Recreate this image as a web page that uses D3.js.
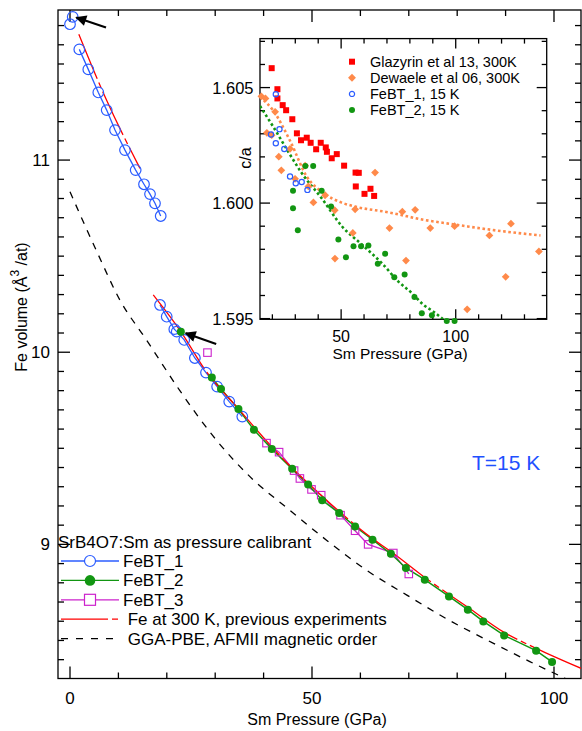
<!DOCTYPE html>
<html>
<head>
<meta charset="utf-8">
<script src="https://cdn.jsdelivr.net/npm/d3@7"></script>
<style>
  body { margin: 0; background: #fff; }
  svg { display: block; font-family: "Liberation Sans", Arial, sans-serif; }
</style>
</head>
<body>
<svg id="chart" width="582" height="731"></svg>
<script>
// ---- main panel: Fe volume vs Sm pressure ----
const febt1Zero = [[0, 11.707], [0.56, 11.745]];
const febt1RunA = [[1.92, 11.576], [3.78, 11.472], [5.85, 11.352], [7.58, 11.26], [9.3, 11.156],
  [11.36, 11.052], [13.57, 10.948], [15.29, 10.874], [16.53, 10.823], [17.56, 10.775], [18.74, 10.709]];
const febt1RunB = [[18.6, 10.246], [19.98, 10.185], [21.55, 10.12], [22.05, 10.107], [23.6, 10.064],
  [25.8, 9.97], [28.1, 9.894], [30.4, 9.821], [32.9, 9.743], [35.6, 9.665]];
const febt2First = [[22.9, 10.107]];
const febt2Run = [[29.3, 9.868], [31.2, 9.809], [34.8, 9.704], [38.0, 9.596], [41.7, 9.496], [45.9, 9.393],
  [49.2, 9.312], [52.1, 9.23], [55.6, 9.163], [58.9, 9.093], [62.5, 9.024], [66.3, 8.951], [69.4, 8.877],
  [73.3, 8.816], [78.3, 8.729], [82.2, 8.66], [85.4, 8.599], [89.7, 8.526], [96.3, 8.447], [99.6, 8.388]];
const febt3Lone = [[28.4, 9.998]];
const febt3Run = [[40.6, 9.527], [43.2, 9.48], [46.3, 9.384], [47.5, 9.343], [49.9, 9.286], [51.9, 9.256],
  [55.9, 9.152], [58.9, 9.071], [61.6, 9.0], [66.8, 8.955], [70.0, 8.846]];
const fe300Low = [[1.82, 11.655], [7.4, 11.32], [14.46, 10.957]];
const fe300High = [[17.2, 10.298], [22.9, 10.107], [28, 9.905], [35, 9.70], [40, 9.555], [45, 9.42],
  [50, 9.30], [55, 9.185], [62.5, 9.03], [66.3, 8.963], [73.3, 8.828], [82.2, 8.673], [89.7, 8.542],
  [96.3, 8.459], [105.6, 8.355]];
const ggaPbe = [[0, 10.835], [5.7, 10.515], [10.3, 10.272], [15.8, 10.064], [22.7, 9.80], [30, 9.55],
  [37.9, 9.335], [44.8, 9.19], [53, 9.022], [61, 8.87], [69.6, 8.736], [78, 8.61], [87.5, 8.485],
  [95, 8.39], [102.3, 8.303]];
const arrows = [[[7.44, 11.69], [1.3, 11.742]], [[30.2, 10.043], [23.9, 10.099]]];

const mainXLabels = [0, 50, 100];
const mainYLabels = [9, 10, 11];
const mainLegend = ["FeBT_1", "FeBT_2", "FeBT_3", " Fe at 300 K, previous experiments", " GGA-PBE, AFMII magnetic order"];

// ---- inset: c/a vs Sm pressure ----
const glazyrin = [[19.7, 1.60584], [22.2, 1.60493], [22.2, 1.60453], [24.5, 1.60424], [26.0, 1.60402],
  [28.7, 1.60363], [30.7, 1.60302], [32.5, 1.60272], [35.0, 1.60283], [36.7, 1.60261], [39.1, 1.60233],
  [41.1, 1.60261], [43.3, 1.60241], [43.8, 1.60222], [45.9, 1.60194], [48.1, 1.60212], [51.3, 1.60162],
  [56.3, 1.60132], [57.7, 1.60131], [56.4, 1.60072], [60.2, 1.6004], [62.8, 1.60062], [64.4, 1.60031]];
const dewaele = [[15.2, 1.60462], [17.0, 1.60453], [21.2, 1.60395], [17.6, 1.60304], [19.7, 1.60294],
  [22.8, 1.60201], [23.9, 1.60142], [27.7, 1.60235], [29.9, 1.60105], [34.3, 1.60162], [35.7, 1.60072],
  [37.9, 1.60003], [43.0, 1.60034], [47.2, 1.59969], [56.1, 1.59973], [55.1, 1.59871], [47.3, 1.5976],
  [71.1, 1.59892], [64.8, 1.60132], [76.7, 1.59963], [78.3, 1.59751], [82.3, 1.59971], [88.9, 1.59892],
  [99.5, 1.599], [114.7, 1.5986], [124.1, 1.59911], [121.8, 1.59681], [105.0, 1.5954], [136.3, 1.59791]];
const febt1Ca = [[21.5, 1.60471], [23.1, 1.6032], [19.4, 1.60297], [21.5, 1.60259], [25.2, 1.60234],
  [27.7, 1.60115], [30.2, 1.60086], [32.8, 1.60091], [35.3, 1.60057]];
const febt2Ca = [[29.0, 1.60053], [29.0, 1.59978], [31.1, 1.59882], [34.4, 1.60161], [37.8, 1.60161],
  [41.5, 1.60053], [45.6, 1.59985], [48.8, 1.59842], [52.1, 1.59766], [55.4, 1.59813], [58.7, 1.59813],
  [61.9, 1.59816], [66.0, 1.59737], [69.2, 1.59781], [73.2, 1.59679], [77.7, 1.59691], [82.0, 1.59593],
  [85.2, 1.59523], [89.6, 1.59514], [96.1, 1.5949], [99.5, 1.5949]];
const dewaeleFit = [[14.6, 1.6046], [20.4, 1.6040], [27.7, 1.6027], [35, 1.60115], [42.3, 1.60043],
  [50, 1.60003], [56, 1.59985], [70.7, 1.5996], [85.9, 1.59928], [100.5, 1.59906], [115, 1.59885], [137, 1.5986]];
const febt2Fit = [[14.6, 1.6042], [20.4, 1.6033], [27.7, 1.6021], [32.8, 1.6013], [41.6, 1.6002],
  [50.3, 1.5990], [59.1, 1.5982], [67.8, 1.5974], [75, 1.5966], [80.9, 1.5961], [85.9, 1.5956],
  [90.3, 1.5953], [95.4, 1.5949]];

const insetXLabels = [50, 100];
const insetYLabels = [1.595, 1.600, 1.605];
const insetLegend = ["Glazyrin et al 13, 300K", "Dewaele et al 06, 300K", "FeBT_1, 15 K", "FeBT_2, 15 K"];

const BLUE = "#2b5cff", GREEN = "#129612", MAGENTA = "#cc22cc", RED = "#ff0000", ORANGE = "#ff8a4a";

const svg = d3.select("#chart");

const x = d3.scaleLinear().domain([-2.48, 105.58]).range([58, 581]);
const y = d3.scaleLinear().domain([8.302, 11.781]).range([678.5, 10]);
const ix = d3.scaleLinear().domain([14.6, 139.7]).range([260, 546.7]);
const iy = d3.scaleLinear().domain([1.59497, 1.60712]).range([319.3, 38.6]);

svg.append("defs").call((defs) => {
  defs.append("clipPath").attr("id", "clip-main")
    .append("rect").attr("x", 58).attr("y", 10).attr("width", 523).attr("height", 668.5);
  defs.append("clipPath").attr("id", "clip-inset")
    .append("rect").attr("x", 260).attr("y", 38.6).attr("width", 286.7).attr("height", 280.7);
  defs.append("marker").attr("id", "head")
    .attr("viewBox", "0 0 10 10").attr("refX", 9).attr("refY", 5)
    .attr("markerUnits", "userSpaceOnUse").attr("markerWidth", 13).attr("markerHeight", 11)
    .attr("orient", "auto")
    .append("path").attr("d", "M0,0 L10,5 L0,10 z").attr("fill", "#000");
});

// box with inward ticks on all four sides
function frame(g, sx, sy, xt, xMajor, yt, yMajor, big, small) {
  const [x0, x1] = sx.range();
  const [y0, y1] = sy.range();
  g.append("rect").attr("x", x0).attr("y", y1).attr("width", x1 - x0).attr("height", y0 - y1)
    .attr("fill", "none").attr("stroke", "#000").attr("stroke-width", 1.3);
  const len = (d, f) => (f(d) ? big : small);
  g.selectAll(".tb").data(xt).join("line").attr("class", "tb")
    .attr("x1", (d) => sx(d)).attr("x2", (d) => sx(d))
    .attr("y1", y0).attr("y2", (d) => y0 - len(d, xMajor));
  g.selectAll(".tt").data(xt).join("line").attr("class", "tt")
    .attr("x1", (d) => sx(d)).attr("x2", (d) => sx(d))
    .attr("y1", y1).attr("y2", (d) => y1 + len(d, xMajor));
  g.selectAll(".tl").data(yt).join("line").attr("class", "tl")
    .attr("y1", (d) => sy(d)).attr("y2", (d) => sy(d))
    .attr("x1", x0).attr("x2", (d) => x0 + len(d, yMajor));
  g.selectAll(".tr").data(yt).join("line").attr("class", "tr")
    .attr("y1", (d) => sy(d)).attr("y2", (d) => sy(d))
    .attr("x1", x1).attr("x2", (d) => x1 - len(d, yMajor));
  g.selectAll("line").attr("stroke", "#000").attr("stroke-width", 1.3);
}

function path(g, data, sx, sy, color, opts = {}) {
  const line = d3.line().x((d) => sx(d[0])).y((d) => sy(d[1]));
  if (opts.curve) line.curve(opts.curve);
  return g.append("path").attr("d", line(data)).attr("fill", "none")
    .attr("stroke", color).attr("stroke-width", opts.width || 1.3)
    .attr("stroke-dasharray", opts.dash || null);
}

function circles(g, data, sx, sy, r, color, open) {
  g.append("g").selectAll("circle").data(data).join("circle")
    .attr("cx", (d) => sx(d[0])).attr("cy", (d) => sy(d[1])).attr("r", r)
    .attr("fill", open ? "none" : color).attr("stroke", color).attr("stroke-width", open ? 1.2 : 0);
}

function squares(g, data, sx, sy, s, color, open, rot) {
  g.append("g").selectAll("rect").data(data).join("rect")
    .attr("x", -s / 2).attr("y", -s / 2).attr("width", s).attr("height", s)
    .attr("transform", (d) => `translate(${sx(d[0])},${sy(d[1])}) rotate(${rot || 0})`)
    .attr("fill", open ? "none" : color).attr("stroke", open ? color : "none").attr("stroke-width", 1.1);
}

// ===== main panel =====
const main = svg.append("g");
frame(main, x, y, d3.range(0, 101, 10), (d) => d % 50 === 0,
  d3.range(84, 118).map((v) => v / 10), (d) => Math.abs(d - Math.round(d)) < 1e-6, 12, 6);

main.selectAll(".xl").data(mainXLabels).join("text").attr("class", "xl")
  .attr("x", (d) => x(d)).attr("y", 704).attr("text-anchor", "middle")
  .attr("font-size", 17).text((d) => d);
main.selectAll(".yl").data(mainYLabels).join("text").attr("class", "yl")
  .attr("x", 50).attr("y", (d) => y(d) + 6).attr("text-anchor", "end")
  .attr("font-size", 17).text((d) => d);

main.append("text").attr("x", 317).attr("y", 725).attr("text-anchor", "middle")
  .attr("font-size", 16).text("Sm Pressure (GPa)");
main.append("text").attr("transform", "translate(27,307) rotate(-90)").attr("text-anchor", "middle")
  .attr("font-size", 16)
  .call((t) => {
    t.append("tspan").text("Fe volume (Å");
    t.append("tspan").attr("dy", -8).attr("font-size", 12).text("3");
    t.append("tspan").attr("dy", 8).text(" /at)");
  });

const plot = main.append("g").attr("clip-path", "url(#clip-main)");
path(plot, ggaPbe, x, y, "#000", { dash: "7,7", curve: d3.curveMonotoneX, width: 1.3 });
path(plot, febt1RunA, x, y, BLUE);
path(plot, febt1RunB, x, y, BLUE);
path(plot, febt3Run, x, y, MAGENTA);
path(plot, febt2Run, x, y, GREEN, { width: 1.5 });
path(plot, fe300Low, x, y, RED, { dash: "48,4,6,4", curve: d3.curveMonotoneX });
path(plot, fe300High, x, y, RED, { dash: "90,4,6,4", curve: d3.curveMonotoneX });

circles(plot, febt1Zero, x, y, 5.3, BLUE, true);
circles(plot, febt1RunA, x, y, 5.3, BLUE, true);
circles(plot, febt1RunB, x, y, 5.3, BLUE, true);
squares(plot, febt3Lone, x, y, 7.5, MAGENTA, true);
squares(plot, febt3Run, x, y, 7.5, MAGENTA, true);
circles(plot, febt2First, x, y, 4, GREEN, false);
circles(plot, febt2Run, x, y, 4, GREEN, false);

main.selectAll(".arrow").data(arrows).join("line").attr("class", "arrow")
  .attr("x1", (d) => x(d[0][0])).attr("y1", (d) => y(d[0][1]))
  .attr("x2", (d) => x(d[1][0])).attr("y2", (d) => y(d[1][1]))
  .attr("stroke", "#000").attr("stroke-width", 2.2).attr("marker-end", "url(#head)");

main.append("text").attr("x", 472).attr("y", 470).attr("font-size", 21).attr("fill", "#1e50ff")
  .text("T=15 K");

// legend
main.append("text").attr("x", 58).attr("y", 548).attr("font-size", 17)
  .text("SrB4O7:Sm as pressure calibrant");
const leg = main.selectAll(".leg").data(mainLegend).join("g").attr("class", "leg")
  .attr("transform", (d, i) => `translate(0,${561 + i * 19.4})`);
leg.append("line").attr("x1", 61).attr("x2", 119).attr("y1", 0).attr("y2", 0)
  .attr("stroke", (d, i) => [BLUE, GREEN, MAGENTA, RED, "#000"][i])
  .attr("stroke-width", 1.3)
  .attr("stroke-dasharray", (d, i) => (i === 3 ? "47,4,6,100" : i === 4 ? "7,8" : null));
leg.append("text").attr("x", 123).attr("y", 6).attr("font-size", 17).attr("xml:space", "preserve")
  .text((d) => d);
leg.filter((d, i) => i === 0).append("circle").attr("cx", 90).attr("r", 5.5)
  .attr("fill", "#fff").attr("stroke", BLUE).attr("stroke-width", 1.2);
leg.filter((d, i) => i === 1).append("circle").attr("cx", 90).attr("r", 5.3).attr("fill", GREEN);
leg.filter((d, i) => i === 2).append("rect").attr("x", 84.5).attr("y", -5.5).attr("width", 11).attr("height", 11)
  .attr("fill", "#fff").attr("stroke", MAGENTA).attr("stroke-width", 1.2);

// ===== inset =====
const inset = svg.append("g");
inset.append("rect").attr("x", 260).attr("y", 38.6).attr("width", 286.7).attr("height", 280.7).attr("fill", "#fff");
frame(inset, ix, iy, d3.range(20, 131, 10), (d) => d % 50 === 0,
  d3.range(1595, 1608).map((v) => v / 1000), (d) => Math.round(d * 1000) % 5 === 0, 10, 5);

inset.selectAll(".ixl").data(insetXLabels).join("text").attr("class", "ixl")
  .attr("x", (d) => ix(d)).attr("y", 341.5).attr("text-anchor", "middle")
  .attr("font-size", 16).text((d) => d);
inset.selectAll(".iyl").data(insetYLabels).join("text").attr("class", "iyl")
  .attr("x", 253.5).attr("y", (d) => iy(d) + 6).attr("text-anchor", "end")
  .attr("font-size", 16.5).text((d) => d3.format(".3f")(d));
inset.append("text").attr("x", 400).attr("y", 358.5).attr("text-anchor", "middle")
  .attr("font-size", 15.5).text("Sm Pressure (GPa)");
inset.append("text").attr("transform", "translate(251,158) rotate(-90)").attr("text-anchor", "middle")
  .attr("font-size", 16).text("c/a");

const ip = inset.append("g").attr("clip-path", "url(#clip-inset)");
path(ip, dewaeleFit, ix, iy, ORANGE, { dash: "2.6,2.6", width: 2.6, curve: d3.curveMonotoneX });
path(ip, febt2Fit, ix, iy, GREEN, { dash: "2.6,2.6", width: 2.6, curve: d3.curveMonotoneX });
squares(inset, glazyrin, ix, iy, 6, RED, false);
squares(inset, dewaele, ix, iy, 5.5, ORANGE, false, 45);
circles(inset, febt1Ca, ix, iy, 2.6, BLUE, true);
circles(inset, febt2Ca, ix, iy, 3, GREEN, false);

const ileg = inset.selectAll(".ileg").data(insetLegend).join("g").attr("class", "ileg")
  .attr("transform", (d, i) => `translate(352,${61.7 + i * 16.1})`);
ileg.append("text").attr("x", 18).attr("y", 5).attr("font-size", 14.5).text((d) => d);
ileg.filter((d, i) => i === 0).append("rect").attr("x", -3).attr("y", -3).attr("width", 6).attr("height", 6).attr("fill", RED);
ileg.filter((d, i) => i === 1).append("rect").attr("x", -2.8).attr("y", -2.8).attr("width", 5.6).attr("height", 5.6)
  .attr("transform", "rotate(45)").attr("fill", ORANGE);
ileg.filter((d, i) => i === 2).append("circle").attr("r", 2.6).attr("fill", "none").attr("stroke", BLUE).attr("stroke-width", 1.2);
ileg.filter((d, i) => i === 3).append("circle").attr("r", 3).attr("fill", GREEN);
</script>
</body>
</html>
